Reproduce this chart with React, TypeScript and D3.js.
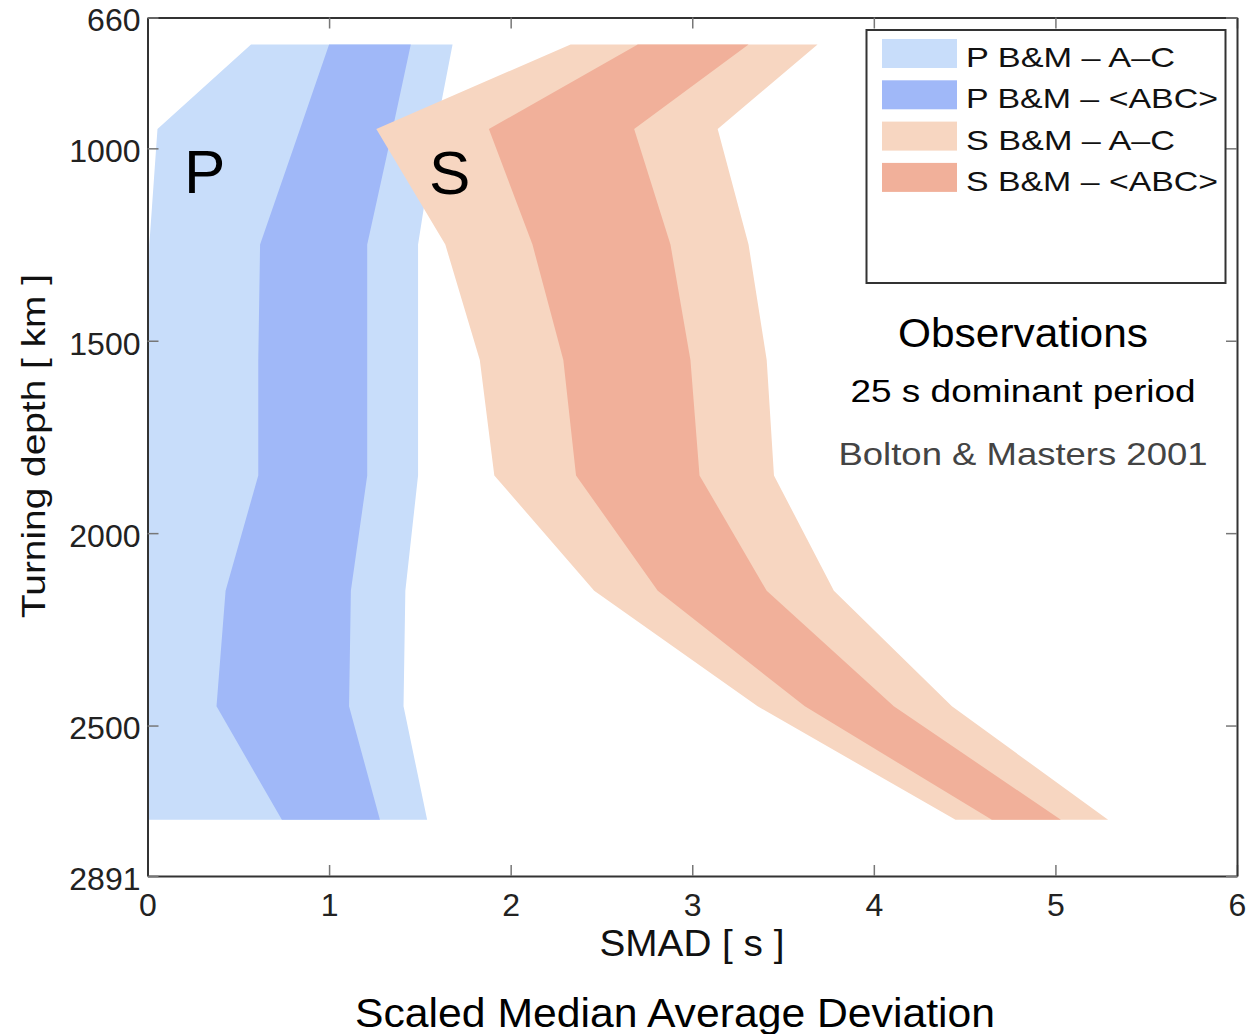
import React, { useEffect, useRef } from 'react';
import * as d3 from 'd3';

// turning depths (km) where the band edges were sampled
const depths = [730, 950, 1250, 1550, 1850, 2150, 2450, 2745];

// SMAD [s] band edges
const pRangeLo = [0.57, 0.055, 0.01, 0, 0, 0, 0, 0];
const pRangeHi = [1.68, 1.59, 1.49, 1.49, 1.49, 1.42, 1.41, 1.54];
const pMeanLo = [1.0, 0.84, 0.62, 0.61, 0.61, 0.43, 0.38, 0.74];
const pMeanHi = [1.45, 1.35, 1.21, 1.21, 1.21, 1.12, 1.11, 1.28];
const sRangeLo = [2.33, 1.26, 1.64, 1.83, 1.91, 2.46, 3.36, 4.45];
const sRangeHi = [3.69, 3.14, 3.31, 3.41, 3.45, 3.78, 4.43, 5.29];
const sMeanLo = [2.7, 1.88, 2.12, 2.29, 2.36, 2.81, 3.62, 4.65];
const sMeanHi = [3.31, 2.68, 2.88, 2.99, 3.04, 3.41, 4.11, 5.03];

const legendLabels = ['P B&M \u2013 A\u2013C', 'P B&M \u2013 <ABC>', 'S B&M \u2013 A\u2013C', 'S B&M \u2013 <ABC>'];
const bandColors = ['#c8ddfa', '#a0b8f8', '#f7d6c1', '#f1b09a'];

const xTicks = [0, 1, 2, 3, 4, 5, 6];
const yTicks = [660, 1000, 1500, 2000, 2500, 2891];

const FONT = 'Liberation Sans, Arial, Helvetica, sans-serif';

export default function App() {
  const svgRef = useRef<SVGSVGElement>(null);

  useEffect(() => {
    if (!svgRef.current) return;
    const root = d3.select(svgRef.current);
    root.selectAll('*').remove();

    const left = 147.5;
    const right = 1237;
    const top = 17.5;
    const bottom = 876;

    const x = d3.scaleLinear().domain([0, 6]).range([left, right]);
    const y = d3.scaleLinear().domain([660, 2891]).range([top, bottom]);

    const bands = [
      { lo: pRangeLo, hi: pRangeHi },
      { lo: pMeanLo, hi: pMeanHi },
      { lo: sRangeLo, hi: sRangeHi },
      { lo: sMeanLo, hi: sMeanHi },
    ];

    // band polygons (drawn in order, S on top of P)
    bands.forEach((b, k) => {
      const a = d3
        .area<number>()
        .y(d => y(d))
        .x0((_, i) => x(b.lo[i]))
        .x1((_, i) => x(b.hi[i]));
      root
        .append('path')
        .attr('d', a(depths) as string)
        .attr('fill', bandColors[k]);
    });

    // axes, ticks pointing inward
    const styleAxis = (g: d3.Selection<SVGGElement, unknown, null, undefined>) => {
      g.select('.domain').attr('stroke', '#333').attr('stroke-width', 2);
      g.selectAll('.tick line').attr('stroke', '#777').attr('stroke-width', 1.5);
      g.selectAll('.tick text')
        .attr('fill', '#222')
        .attr('font-size', 32)
        .attr('font-family', FONT);
    };

    const gBottom = root
      .append('g')
      .attr('transform', `translate(0,${bottom})`)
      .call(d3.axisBottom(x).tickValues(xTicks).tickSizeInner(-11).tickSizeOuter(0).tickPadding(17).tickFormat(d3.format('d')));
    styleAxis(gBottom);

    const gTop = root
      .append('g')
      .attr('transform', `translate(0,${top})`)
      .call(d3.axisTop(x).tickValues(xTicks).tickSizeInner(-11).tickSizeOuter(0).tickFormat(() => ''));
    styleAxis(gTop);

    const gLeft = root
      .append('g')
      .attr('transform', `translate(${left},0)`)
      .call(d3.axisLeft(y).tickValues(yTicks).tickSizeInner(-11).tickSizeOuter(0).tickPadding(7).tickFormat(d3.format('d')));
    styleAxis(gLeft);
    gLeft.selectAll('.tick text').attr('dy', '0.42em');

    const gRight = root
      .append('g')
      .attr('transform', `translate(${right},0)`)
      .call(d3.axisRight(y).tickValues(yTicks).tickSizeInner(-11).tickSizeOuter(0).tickFormat(() => ''));
    styleAxis(gRight);

    // axis labels
    root
      .append('text')
      .attr('x', 692)
      .attr('y', 956)
      .attr('text-anchor', 'middle')
      .attr('font-size', 36)
      .attr('font-family', FONT)
      .attr('fill', '#111')
      .attr('textLength', 185)
      .attr('lengthAdjust', 'spacingAndGlyphs')
      .text('SMAD [ s ]');

    root
      .append('text')
      .attr('transform', 'translate(45,446) rotate(-90)')
      .attr('text-anchor', 'middle')
      .attr('font-size', 34)
      .attr('font-family', FONT)
      .attr('fill', '#111')
      .attr('textLength', 344)
      .attr('lengthAdjust', 'spacingAndGlyphs')
      .text('Turning depth [ km ]');

    root
      .append('text')
      .attr('x', 675)
      .attr('y', 1027)
      .attr('text-anchor', 'middle')
      .attr('font-size', 40)
      .attr('font-family', FONT)
      .attr('fill', '#000')
      .attr('textLength', 640)
      .attr('lengthAdjust', 'spacingAndGlyphs')
      .text('Scaled Median Average Deviation');

    // P / S markers
    root
      .append('text')
      .attr('x', 184)
      .attr('y', 193)
      .attr('font-size', 62)
      .attr('font-family', FONT)
      .text('P');
    root
      .append('text')
      .attr('x', 429)
      .attr('y', 194)
      .attr('font-size', 62)
      .attr('font-family', FONT)
      .text('S');

    // legend
    const legend = root.append('g');
    legend
      .append('rect')
      .attr('x', 866.5)
      .attr('y', 30)
      .attr('width', 359)
      .attr('height', 253)
      .attr('fill', '#fff')
      .attr('stroke', '#333')
      .attr('stroke-width', 2);

    const rowStep = 41.3;
    legendLabels.forEach((lab, i) => {
      legend
        .append('rect')
        .attr('x', 882)
        .attr('y', 39 + i * rowStep)
        .attr('width', 75)
        .attr('height', 29)
        .attr('fill', bandColors[i]);
      legend
        .append('text')
        .attr('x', 966)
        .attr('y', 67 + i * rowStep)
        .attr('font-size', 28)
        .attr('font-family', FONT)
        .attr('fill', '#111')
        .attr('textLength', lab.includes('<') ? 252 : 209)
        .attr('lengthAdjust', 'spacingAndGlyphs')
        .text(lab);
    });

    // annotation
    const notes = [
      { text: 'Observations', y: 347, size: 40, len: 250, fill: '#000' },
      { text: '25 s dominant period', y: 402, size: 31, len: 345, fill: '#000' },
      { text: 'Bolton & Masters 2001', y: 465, size: 32, len: 369, fill: '#444' },
    ];
    notes.forEach(n => {
      root
        .append('text')
        .attr('x', 1023)
        .attr('y', n.y)
        .attr('text-anchor', 'middle')
        .attr('font-size', n.size)
        .attr('font-family', FONT)
        .attr('fill', n.fill)
        .attr('textLength', n.len)
        .attr('lengthAdjust', 'spacingAndGlyphs')
        .text(n.text);
    });
  }, []);

  return (
    <div style={{ position: 'absolute', left: 0, top: 0 }}>
      <svg ref={svgRef} width={1247} height={1034} style={{ display: 'block', background: '#fff' }} />
    </div>
  );
}
